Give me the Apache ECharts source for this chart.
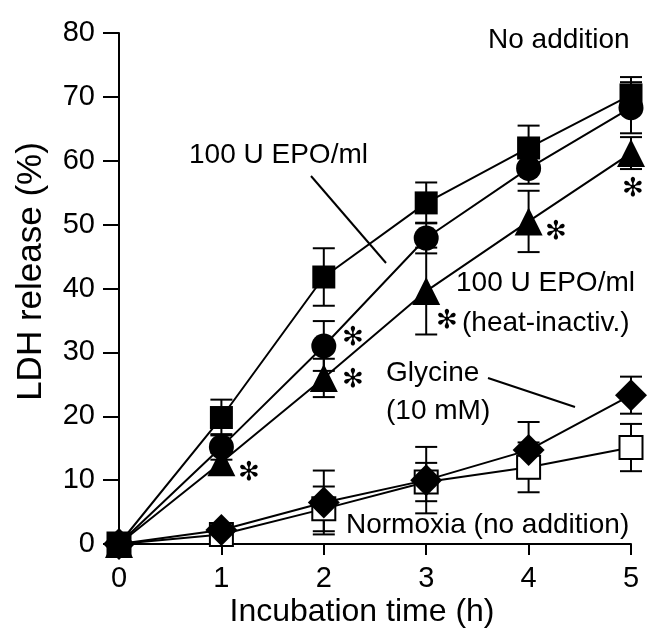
<!DOCTYPE html>
<html>
<head>
<meta charset="utf-8">
<script src="https://cdn.jsdelivr.net/npm/echarts@6/dist/echarts.min.js"></script>
<style>html,body{margin:0;padding:0;background:#fff}#c{width:647px;height:633px}</style>
</head>
<body>
<div id="c"></div>
<script>
var times = [0, 1, 2, 3, 4, 5];
var xTicks = ['0', '1', '2', '3', '4', '5'];
var yTicks = ['0', '10', '20', '30', '40', '50', '60', '70', '80'];

var noAddition   = [0, 19.8, 41.8, 53.4, 62.0, 70.3];
var noAdditionSE = [0, 2.8, 4.5, 3.2, 3.5, 2.8];
var epo          = [0, 15.2, 31.0, 47.9, 58.8, 68.3];
var epoSE        = [0, 2.0, 3.9, 2.4, 2.4, 4.0];
var epoHeat      = [0, 12.8, 26.0, 39.6, 50.5, 61.2];
var epoHeatSE    = [0, 1.5, 3.0, 6.8, 4.8, 2.5];
var glycine      = [0, 2.2, 6.5, 10.0, 14.7, 23.3];
var glycineSE    = [0, 1.0, 5.0, 5.2, 4.4, 2.9];
var normoxia     = [0, 1.5, 5.5, 9.7, 12.0, 15.1];
var normoxiaSE   = [0, 0.8, 3.5, 3.0, 3.9, 3.7];

var FONT = "'Liberation Sans', Arial, Helvetica, sans-serif";

function pts(vals) { return times.map(function (t, i) { return [t, vals[i]]; }); }
function errPts(vals, se) { return times.map(function (t, i) { return [t, vals[i] - se[i], vals[i] + se[i]]; }); }

function errSeries(vals, se) {
  return {
    type: 'custom', z: 1, silent: true,
    data: errPts(vals, se),
    renderItem: function (params, api) {
      if (api.value(2) - api.value(1) <= 0) return null;
      var lo = api.coord([api.value(0), api.value(1)]);
      var hi = api.coord([api.value(0), api.value(2)]);
      var w = 11;
      var st = { stroke: '#000', lineWidth: 2 };
      return { type: 'group', children: [
        { type: 'line', shape: { x1: lo[0], y1: lo[1], x2: hi[0], y2: hi[1] }, style: st },
        { type: 'line', shape: { x1: lo[0] - w, y1: lo[1], x2: lo[0] + w, y2: lo[1] }, style: st },
        { type: 'line', shape: { x1: hi[0] - w, y1: hi[1], x2: hi[0] + w, y2: hi[1] }, style: st }
      ]};
    }
  };
}

function lineSeries(name, vals, symbol, size, open) {
  return {
    name: name, type: 'line', z: 3,
    data: pts(vals), symbol: symbol, symbolSize: size, showSymbol: true,
    lineStyle: { color: '#000', width: 2 },
    itemStyle: open ? { color: '#fff', borderColor: '#000', borderWidth: 2 } : { color: '#000', borderColor: '#000', borderWidth: 0 },
    emphasis: { disabled: true }, animation: false
  };
}

var chart = echarts.init(document.getElementById('c'));
var txt = function (x, y, s, extra) {
  return Object.assign({ type: 'text', left: x, top: y,
    style: { text: s, font: '28px ' + FONT, fill: '#000', textVerticalAlign: 'middle' } }, extra || {});
};
var star = function (x, y) {
  return { type: 'text', x: x, y: y, style: { text: '\u273B', font: 'bold 26px DejaVu Sans', fill: '#000', textAlign: 'center', textVerticalAlign: 'middle' } };
};
chart.setOption({
  animation: false,
  grid: { left: 119, right: 16, top: 33, bottom: 89 },
  xAxis: {
    type: 'value', min: 0, max: 5, interval: 1,
    name: 'Incubation time (h)', nameLocation: 'middle', nameGap: 52, nameMoveOverlap: false,
    nameTextStyle: { fontSize: 32, fontFamily: FONT, color: '#000', padding: [0, 26, 0, 0] },
    axisLine: { show: true, lineStyle: { color: '#000', width: 2 } },
    axisTick: { show: true, length: 11, lineStyle: { color: '#000', width: 2 } },
    axisLabel: { fontSize: 29, fontFamily: FONT, color: '#000', margin: 20,
      formatter: function (v) { return xTicks[Math.round(v)]; } },
    splitLine: { show: false }
  },
  yAxis: {
    type: 'value', min: 0, max: 80, interval: 10,
    name: 'LDH release (%)', nameLocation: 'middle', nameGap: 70,
    nameTextStyle: { fontSize: 35, fontFamily: FONT, color: '#000', padding: [0, 0, 0, 34] },
    axisLine: { show: true, lineStyle: { color: '#000', width: 2 } },
    axisTick: { show: true, length: 16, lineStyle: { color: '#000', width: 2 } },
    axisLabel: { fontSize: 29, fontFamily: FONT, color: '#000', margin: 24,
      formatter: function (v) { return yTicks[Math.round(v / 10)]; } },
    splitLine: { show: false }
  },
  series: [
    errSeries(noAddition, noAdditionSE),
    errSeries(epo, epoSE),
    errSeries(epoHeat, epoHeatSE),
    errSeries(glycine, glycineSE),
    errSeries(normoxia, normoxiaSE),
    lineSeries('Normoxia (no addition)', normoxia, 'rect', 23, true),
    lineSeries('Glycine (10 mM)', glycine, 'diamond', 32, false),
    lineSeries('100 U EPO/ml (heat-inactiv.)', epoHeat, 'triangle', 28, false),
    lineSeries('100 U EPO/ml', epo, 'circle', 25, false),
    lineSeries('No addition', noAddition, 'rect', 23, false)
  ],
  graphic: [
    txt(488, 26, 'No addition'),
    txt(189, 141, '100 U EPO/ml'),
    { type: 'line', shape: { x1: 311, y1: 176, x2: 386, y2: 263 }, style: { stroke: '#000', lineWidth: 2 } },
    txt(456, 269, '100 U EPO/ml'),
    txt(462, 309, '(heat-inactiv.)'),
    txt(386, 359, 'Glycine'),
    txt(386, 397, '(10 mM)'),
    { type: 'line', shape: { x1: 488, y1: 378, x2: 575, y2: 407 }, style: { stroke: '#000', lineWidth: 2 } },
    txt(346, 511, 'Normoxia (no addition)'),
    star(353, 338), star(353, 380), star(249, 473), star(447, 321), star(556, 232), star(633, 189)
  ]
});
</script>
</body>
</html>
